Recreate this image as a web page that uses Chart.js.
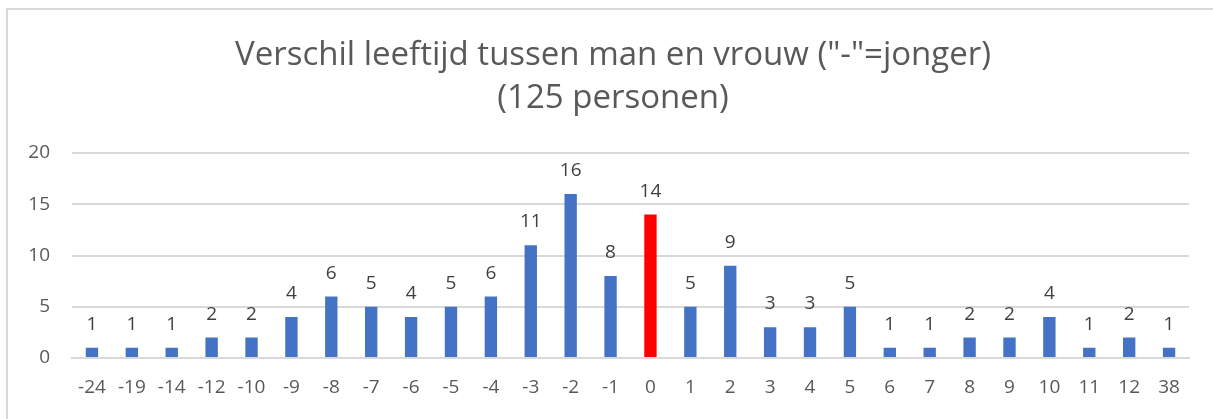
<!DOCTYPE html>
<html>
<head>
<meta charset="utf-8">
<script src="https://cdn.jsdelivr.net/npm/chart.js@4"></script>
<style>
    html, body { margin: 0; padding: 0; background: #ffffff; }
    #wrap { position: relative; width: 1213px; height: 419px; overflow: hidden; }
    #frame {
        position: absolute; left: 6px; top: 8px; width: 1300px; height: 500px;
        border-left: 2px solid #d9d9d9; border-top: 2px solid #d9d9d9;
    }
    #chart { position: absolute; left: 0; top: 0; }
</style>
</head>
<body>
<div id="wrap">
    <div id="frame"></div>
    <canvas id="chart" width="1213" height="419"></canvas>
</div>
<script>
"use strict";

// leeftijdsverschil (man - vrouw) en aantal personen per verschil
const verschillen = ['-24', '-19', '-14', '-12', '-10', '-9', '-8', '-7', '-6', '-5', '-4', '-3', '-2', '-1',
    '0', '1', '2', '3', '4', '5', '6', '7', '8', '9', '10', '11', '12', '38'];
const aantallen = [1, 1, 1, 2, 2, 4, 6, 5, 4, 5, 6, 11, 16, 8, 14, 5, 9, 3, 3, 5, 1, 1, 2, 2, 4, 1, 2, 1];
const yTicks = [0, 5, 10, 15, 20];
const titelRegels = ['Verschil leeftijd tussen man en vrouw ("-"=jonger)', '(125 personen)'];

const fontFamily = "'Open Sans', 'Noto Sans', sans-serif";

// titel in het midden van het hele kader, niet van de plotruimte
const titel = {
    id: 'titel',
    afterDraw(chart) {
        const ctx = chart.ctx;
        ctx.save();
        ctx.font = `33px ${fontFamily}`;
        ctx.fillStyle = '#595959';
        ctx.textAlign = 'center';
        ctx.textBaseline = 'alphabetic';
        ctx.fillText(titelRegels[0], 613, 65);
        ctx.fillText(titelRegels[1], 613, 108);
        ctx.restore();
    }
};

// getal boven elke staaf
const valueLabels = {
    id: 'valueLabels',
    afterDatasetsDraw(chart) {
        const ctx = chart.ctx;
        const meta = chart.getDatasetMeta(0);
        ctx.save();
        ctx.font = `19px ${fontFamily}`;
        ctx.fillStyle = '#404040';
        ctx.textAlign = 'center';
        ctx.textBaseline = 'alphabetic';
        meta.data.forEach((bar, i) => {
            ctx.fillText(String(aantallen[i]), bar.x, bar.y - 18);
        });
        ctx.restore();
    }
};

const ctx = document.getElementById('chart').getContext('2d');
new Chart(ctx, {
    type: 'bar',
    data: {
        labels: verschillen,
        datasets: [{
            data: aantallen,
            backgroundColor: verschillen.map(v => v === '0' ? '#ff0000' : '#4472c4'),
            barPercentage: 0.31,
            categoryPercentage: 1
        }]
    },
    options: {
        responsive: false,
        animation: false,
        layout: {
            padding: { left: 0, right: 24, top: 153, bottom: 2 }
        },
        plugins: {
            legend: { display: false },
            tooltip: { enabled: false },
            title: { display: false }
        },
        scales: {
            x: {
                grid: { display: false, drawTicks: false },
                border: { display: true, color: '#d9d9d9', width: 2 },
                ticks: {
                    color: '#595959',
                    font: { family: fontFamily, size: 19, lineHeight: 1 },
                    padding: 20,
                    maxRotation: 0,
                    autoSkip: false
                }
            },
            y: {
                min: 0,
                max: 20,
                afterBuildTicks: (scale) => {
                    scale.ticks = yTicks.map(v => ({ value: v }));
                },
                afterFit: (scale) => {
                    scale.width = 72;
                },
                grid: { color: '#d9d9d9', lineWidth: 2, drawTicks: false },
                border: { display: false },
                ticks: {
                    color: '#595959',
                    font: { family: fontFamily, size: 19 },
                    padding: 22
                }
            }
        }
    },
    plugins: [valueLabels, titel]
});
</script>
</body>
</html>
